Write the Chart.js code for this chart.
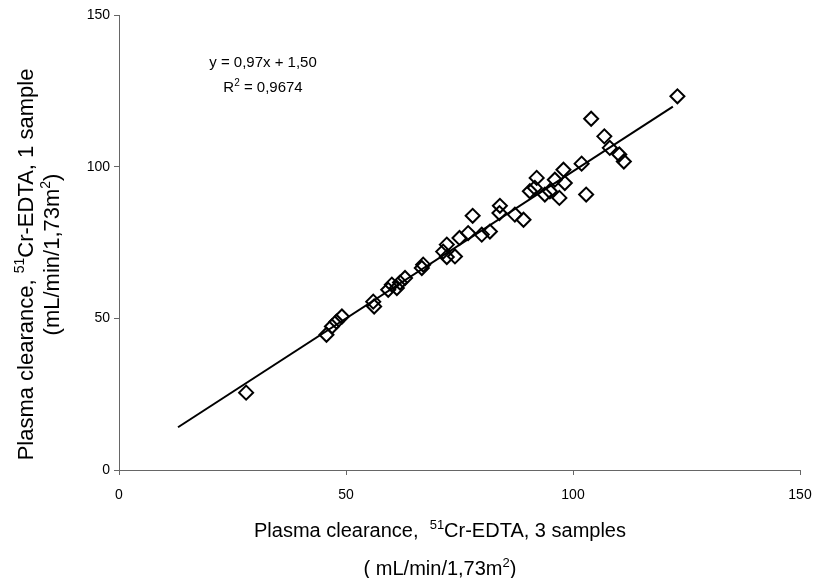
<!DOCTYPE html>
<html>
<head>
<meta charset="utf-8">
<script src="https://cdn.jsdelivr.net/npm/chart.js@4.4.1/dist/chart.umd.min.js"></script>
<style>
  html, body { margin: 0; padding: 0; background: #fff; }
  #wrap { width: 815px; height: 578px; }
</style>
</head>
<body>
<div id="wrap"><canvas id="scatterChart" width="815" height="578"></canvas></div>
<script>
// values: 3-sample clearance (x) vs 1-sample clearance (y)
const clearance3 = [28.0, 45.7, 46.9, 47.9, 49.1, 56.0, 56.2, 59.3, 60.1, 61.2, 61.9, 63.0, 66.7, 67.0,
    71.4, 72.2, 72.2, 74.0, 75.0, 76.9, 77.9, 79.9, 81.7, 83.8, 83.9, 87.2, 89.1, 90.5, 91.6, 92.0,
    93.8, 94.9, 96.0, 97.0, 97.9, 98.2, 101.9, 102.9, 104.0, 106.9, 108.1, 110.2, 111.2, 123.0];
const clearance1 = [25.5, 44.6, 47.3, 48.9, 50.6, 55.5, 53.9, 59.4, 61.1, 60.0, 61.8, 63.3, 66.6, 67.7,
    72.0, 74.3, 70.2, 70.4, 76.5, 78.1, 83.8, 77.6, 78.6, 84.7, 87.1, 84.2, 82.5, 91.9, 93.0, 96.3,
    90.8, 91.9, 95.7, 89.7, 99.0, 94.6, 101.0, 90.8, 115.8, 110.0, 106.2, 104.0, 101.7, 123.2];

// trend line ends, as drawn
const fitX = [13, 122];
const fitY = [14.1, 119.8];

const axisTicks = [0, 50, 100, 150];

const FONT = "'Liberation Sans', Arial, sans-serif";

var points = clearance3.map((x, i) => ({ x: x, y: clearance1[i] }));
var fitLine = fitX.map((x, i) => ({ x: x, y: fitY[i] }));

// draws text made of normal / superscript pieces, centred on x
function drawRich(ctx, parts, x, y, size) {
    var supSize = Math.round(size * 0.65);
    var total = 0;
    ctx.textAlign = 'left';
    parts.forEach(p => {
        ctx.font = (p.sup ? supSize : size) + "px " + FONT;
        total += ctx.measureText(p.t).width;
    });
    var cx = x - total / 2;
    parts.forEach(p => {
        ctx.font = (p.sup ? supSize : size) + "px " + FONT;
        ctx.fillText(p.t, cx, p.sup ? y - size * 0.42 : y);
        cx += ctx.measureText(p.t).width;
    });
}

const titlesPlugin = {
    id: 'titles',
    afterDraw(chart) {
        var ctx = chart.ctx;
        var area = chart.chartArea;
        var midY = (area.top + area.bottom) / 2;
        ctx.save();
        ctx.fillStyle = '#000';
        ctx.textBaseline = 'alphabetic';

        // x axis title
        drawRich(ctx, [{ t: 'Plasma clearance,  ' }, { t: '51', sup: true }, { t: 'Cr-EDTA, 3 samples' }], 440, 537, 20);
        drawRich(ctx, [{ t: '( mL/min/1,73m' }, { t: '2', sup: true }, { t: ')' }], 440, 575, 20);

        // y axis title
        ctx.save();
        ctx.translate(33, midY + 22);
        ctx.rotate(-Math.PI / 2);
        drawRich(ctx, [{ t: 'Plasma clearance, ' }, { t: '51', sup: true }, { t: 'Cr-EDTA, 1 sample' }], 0, 0, 22);
        ctx.restore();
        ctx.save();
        ctx.translate(59, midY + 12);
        ctx.rotate(-Math.PI / 2);
        drawRich(ctx, [{ t: '(mL/min/1,73m' }, { t: '2', sup: true }, { t: ')' }], 0, 0, 22);
        ctx.restore();

        // regression equation
        drawRich(ctx, [{ t: 'y = 0,97x + 1,50' }], 263, 67, 15);
        drawRich(ctx, [{ t: 'R' }, { t: '2', sup: true }, { t: ' = 0,9674' }], 263, 92, 15);
        ctx.restore();
    }
};

new Chart(document.querySelector('#scatterChart'), {
    type: 'scatter',
    data: {
        datasets: [{
            type: 'line',
            data: fitLine,
            borderColor: '#000',
            borderWidth: 2,
            pointRadius: 0,
            fill: false
        }, {
            data: points,
            pointStyle: 'rectRot',
            pointRadius: 7,
            borderWidth: 2,
            borderColor: '#000',
            backgroundColor: 'rgba(255,255,255,0)'
        }]
    },
    options: {
        responsive: false,
        animation: false,
        layout: {
            padding: { top: 15, right: 15, left: 0, bottom: 0 }
        },
        plugins: {
            legend: { display: false },
            tooltip: { enabled: false }
        },
        scales: {
            x: {
                type: 'linear',
                min: 0,
                max: 150,
                afterBuildTicks: s => { s.ticks = axisTicks.map(v => ({ value: v })); },
                afterFit: s => {
                    s.height = 108;
                    s.paddingLeft = 0;
                    s.paddingRight = 0;
                },
                ticks: {
                    color: '#000',
                    font: { size: 14, family: FONT },
                    padding: 12,
                    maxRotation: 0
                },
                grid: { drawOnChartArea: false, tickLength: 5, color: '#666' },
                border: { color: '#666', width: 1 }
            },
            y: {
                type: 'linear',
                min: 0,
                max: 150,
                afterBuildTicks: s => { s.ticks = axisTicks.map(v => ({ value: v })); },
                afterFit: s => {
                    s.width = 119;
                    s.paddingTop = 0;
                    s.paddingBottom = 0;
                },
                ticks: {
                    color: '#000',
                    font: { size: 14, family: FONT },
                    padding: 4
                },
                grid: { drawOnChartArea: false, tickLength: 5, color: '#666' },
                border: { color: '#666', width: 1 }
            }
        }
    },
    plugins: [titlesPlugin]
});
</script>
</body>
</html>
